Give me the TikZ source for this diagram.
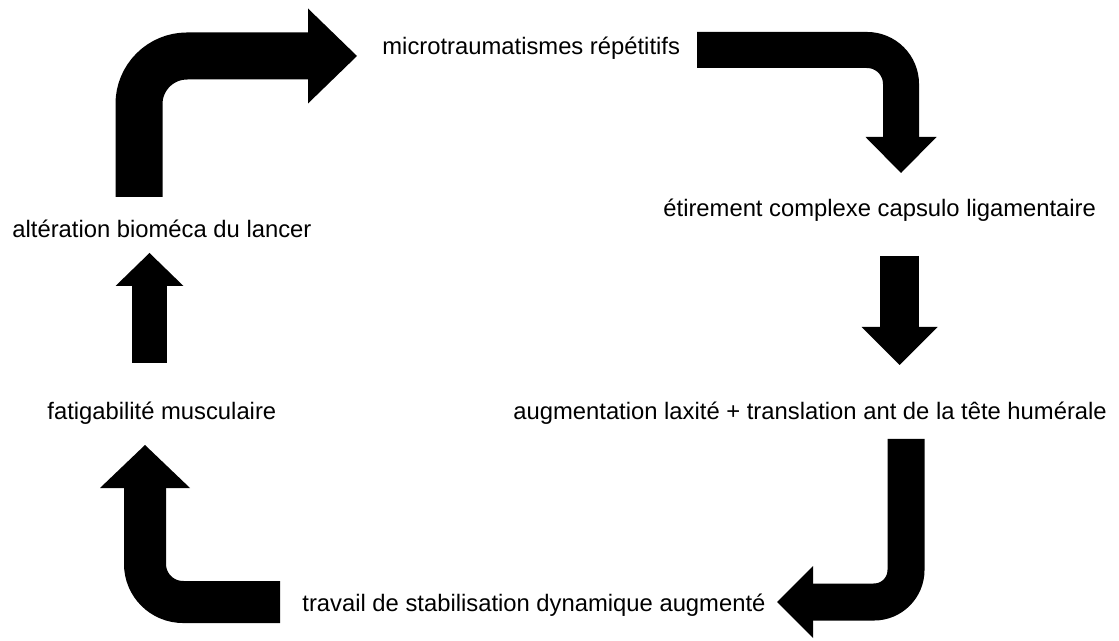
\documentclass[tikz,border=0pt]{standalone}
\usepackage{fontspec}
\setmainfont{Liberation Sans}
\usetikzlibrary{arrows.meta}

\begin{document}
\begin{tikzpicture}[x=0.5pt,y=-0.5pt]
		\tikzset{stage/.style = {anchor=base west, inner sep=0pt,
			font=\fontsize{11.9}{14}\selectfont}}
		\tikzset{flow/.style n args = {3}{line width=#1,
			-{Triangle[width=#2, length=#3, line width'=0pt]}}}
		\useasboundingbox (0,0) rectangle (1119,641);
		% stages
		\node[stage] (micro) at (382,55) {microtraumatismes répétitifs};
		\node[stage] (etir) at (663,217) {étirement complexe capsulo ligamentaire};
		\node[stage] (augm) at (513,420) {augmentation laxité + translation ant de la tête humérale};
		\node[stage] (trav) at (302,611) {travail de stabilisation dynamique augmenté};
		\node[stage] (fat) at (47,420) {fatigabilité musculaire};
		\node[stage] (alt) at (12,238) {altération bioméca du lancer};
		
		% arrow ends
		\coordinate (a1s) at (139,197);
		\coordinate (a1e) at (357,56);
		\coordinate (a2s) at (697,50);
		\coordinate (a2e) at (901,173);
		\coordinate (a3s) at (906,439);
		\coordinate (a3e) at (777,602);
		\coordinate (a4s) at (280,602);
		\coordinate (a4e) at (145,445);
		\coordinate (a5s) at (149.5,363);
		\coordinate (a5e) at (149.5,253);
		\coordinate (a6s) at (899.5,256);
		\coordinate (a6e) at (899.5,365);
		
		%arrows
		\draw[flow={23.5pt}{47.5pt}{24.5pt}, rounded corners=24pt] (a1s) |- (a1e);
		\draw[flow={18pt}{35.5pt}{18pt}, rounded corners=17pt] (a2s) -| (a2e);
		\draw[flow={19.5pt}{38pt}{19pt}] (a6s) -- (a6e);
		\draw[flow={18.5pt}{36pt}{18pt}, rounded corners=16pt] (a3s) |- (a3e);
		\draw[flow={21pt}{45pt}{21.5pt}, rounded corners=19pt] (a4s) -| (a4e);
		\draw[flow={17.5pt}{34pt}{16.5pt}] (a5s) -- (a5e);
\end{tikzpicture}
\end{document}
